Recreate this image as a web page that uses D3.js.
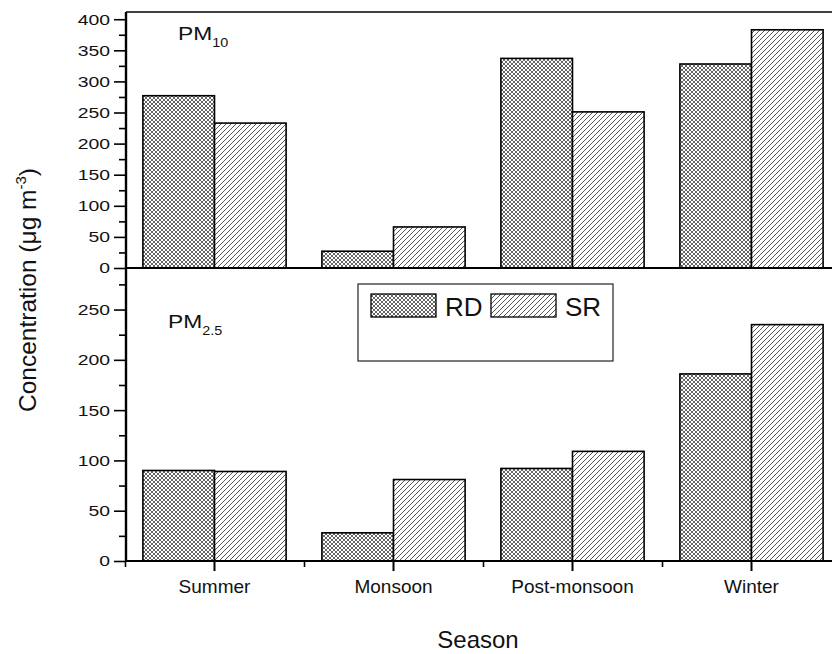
<!DOCTYPE html>
<html>
<head>
<meta charset="utf-8">
<script src="https://cdn.jsdelivr.net/npm/d3@7"></script>
<style>
  body { margin: 0; background: #fff; }
  svg { display: block; font-family: "Liberation Sans", Arial, sans-serif; }
</style>
</head>
<body>
<svg id="chart" width="832" height="654"></svg>
<script>
// --- データ ---
const seasons = ["Summer", "Monsoon", "Post-monsoon", "Winter"];
const series = ["RD", "SR"];
const pm10RD = [277, 27, 337, 328];
const pm10SR = [233, 66, 251, 383];
const pm25RD = [90, 28, 92, 186];
const pm25SR = [89, 81, 109, 235];
const pm10Ticks = [0, 50, 100, 150, 200, 250, 300, 350, 400];
const pm10Minor = [25, 75, 125, 175, 225, 275, 325, 375];
const pm25Ticks = [0, 50, 100, 150, 200, 250];
const pm25Minor = [25, 75, 125, 175, 225, 275];

const svg = d3.select("#chart");
const plotL = 126, plotR = 841, plotT = 12, plotM = 268, plotB = 561;

// --- パターン ---
const defs = svg.append("defs");
const cross = defs.append("pattern").attr("id", "pat-RD")
  .attr("patternUnits", "userSpaceOnUse").attr("width", 4).attr("height", 4);
cross.append("rect").attr("width", 4).attr("height", 4).attr("fill", "#fff");
cross.append("path").attr("d", "M0,0L4,4M4,0L0,4M-1,1L1,-1M3,5L5,3M-1,3L1,5M3,-1L5,1")
  .attr("stroke", "#555").attr("stroke-width", 0.9);
const hatch = defs.append("pattern").attr("id", "pat-SR")
  .attr("patternUnits", "userSpaceOnUse").attr("width", 5).attr("height", 5);
hatch.append("rect").attr("width", 5).attr("height", 5).attr("fill", "#fff");
hatch.append("path").attr("d", "M0,5L5,0M-1,1L1,-1M4,6L6,4")
  .attr("stroke", "#444").attr("stroke-width", 0.9);

// --- スケール ---
const x = d3.scaleBand().domain(seasons).range([125, plotR]).padding(0);
const xEdge = d3.scaleLinear().domain([0, seasons.length]).range([125, plotR]);
const yTop = d3.scaleLinear().domain([0, 411.6]).range([plotM, plotT]);
const yBot = d3.scaleLinear().domain([0, 291.3]).range([plotB, plotM]);
const bw = x.bandwidth() * 0.4;

function drawBars(y, rd, sr) {
  const g = svg.append("g");
  [rd, sr].forEach((vals, k) => {
    g.selectAll(null).data(seasons).enter().append("rect")
      .attr("x", s => x(s) + x.bandwidth() * 0.1 + k * bw)
      .attr("y", (s, i) => y(vals[i]))
      .attr("width", bw)
      .attr("height", (s, i) => y(0) - y(vals[i]))
      .attr("fill", `url(#pat-${series[k]})`)
      .attr("stroke", "#000").attr("stroke-width", 1.6);
  });
}
drawBars(yTop, pm10RD, pm10SR);
drawBars(yBot, pm25RD, pm25SR);

// --- 軸 ---
function yAxis(y, ticks, minor) {
  svg.append("g").attr("transform", `translate(${plotL},0)`)
    .call(d3.axisLeft(y).tickValues(minor).tickSize(7).tickFormat(""))
    .call(g => g.select(".domain").remove())
    .selectAll("line").attr("stroke-width", 1.6);
  const g = svg.append("g").attr("transform", `translate(${plotL},0)`)
    .call(d3.axisLeft(y).tickValues(ticks).tickSize(12).tickPadding(4));
  g.select(".domain").remove();
  g.selectAll("line").attr("stroke-width", 1.6);
  g.selectAll("text")
    .attr("x", -16 / 1.25)
    .attr("transform", "scale(1.25,1)")
    .attr("font-size", 15.5).attr("fill", "#111");
}
yAxis(yTop, pm10Ticks, pm10Minor);
yAxis(yBot, pm25Ticks, pm25Minor);

// x 軸
const xa = svg.append("g").attr("transform", `translate(0,${plotB})`)
  .call(d3.axisBottom(x).tickSize(10).tickPadding(9));
xa.select(".domain").remove();
xa.selectAll("line").attr("stroke-width", 2);
xa.selectAll("text").attr("font-size", 19).attr("fill", "#111");
svg.append("g").attr("transform", `translate(0,${plotB})`)
  .call(d3.axisBottom(xEdge).tickValues(d3.range(seasons.length + 1)).tickSize(6).tickFormat(""))
  .call(g => g.select(".domain").remove())
  .selectAll("line").attr("stroke-width", 1.6);

// 枠線
svg.append("line").attr("x1", plotL).attr("x2", 832).attr("y1", plotT).attr("y2", plotT)
  .attr("stroke", "#000").attr("stroke-width", 1.6);
svg.append("line").attr("x1", plotL).attr("x2", 832).attr("y1", plotM).attr("y2", plotM)
  .attr("stroke", "#000").attr("stroke-width", 2.2);
svg.append("line").attr("x1", plotL).attr("x2", 832).attr("y1", plotB).attr("y2", plotB)
  .attr("stroke", "#000").attr("stroke-width", 2.2);
svg.append("line").attr("x1", plotL).attr("x2", plotL).attr("y1", plotT).attr("y2", plotB)
  .attr("stroke", "#000").attr("stroke-width", 2.4);

// --- ラベル ---
function pmLabel(tx, ty, sub) {
  const t = svg.append("text").attr("transform", `translate(${tx},${ty}) scale(1.2,1)`)
    .attr("font-size", 19).attr("fill", "#111");
  t.append("tspan").text("PM");
  t.append("tspan").attr("font-size", 12).attr("dy", 7).text(sub);
}
pmLabel(178, 40, "10");
pmLabel(168, 328, "2.5");

svg.append("text").attr("x", 478).attr("y", 648).attr("text-anchor", "middle")
  .attr("font-size", 24).attr("fill", "#111").text("Season");

const yt = svg.append("text").attr("transform", "translate(36,290) rotate(-90)")
  .attr("text-anchor", "middle").attr("font-size", 24.5).attr("fill", "#111");
yt.append("tspan").text("Concentration (μg m");
yt.append("tspan").attr("font-size", 15).attr("dy", -10).text("-3");
yt.append("tspan").attr("dy", 10).text(")");

// --- 凡例 ---
const lg = svg.append("g");
lg.append("rect").attr("x", 358).attr("y", 284).attr("width", 255).attr("height", 77)
  .attr("fill", "#fff").attr("stroke", "#222").attr("stroke-width", 1.2);
series.forEach((s, i) => {
  const lx = 371 + i * 120;
  lg.append("rect").attr("x", lx).attr("y", 294).attr("width", 65).attr("height", 23)
    .attr("fill", `url(#pat-${s})`).attr("stroke", "#000").attr("stroke-width", 1.3);
  lg.append("text").attr("x", lx + 74).attr("y", 316).attr("font-size", 26)
    .attr("fill", "#111").text(s);
});
</script>
</body>
</html>
